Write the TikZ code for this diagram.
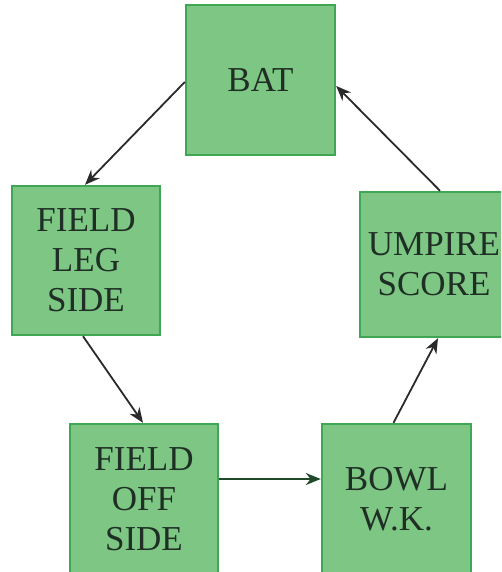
\documentclass[tikz,border=0pt]{standalone}
\usepackage{fontspec}
\setmainfont{Liberation Serif}
\usetikzlibrary{arrows.meta}
\definecolor{boxfill}{HTML}{7DC683}
\definecolor{boxline}{HTML}{3FA653}
\definecolor{txt}{HTML}{1F2F25}
\definecolor{arrcol}{HTML}{2A2A2A}
\definecolor{arrgreen}{HTML}{1F4A2A}
\begin{document}
\begin{tikzpicture}[x=1pt,y=-1pt,
  stagebox/.style={draw=boxline,line width=2.4pt,fill=boxfill,rectangle,inner sep=0pt,
    text=txt,align=center,font=\fontsize{35}{40}\selectfont},
  arr/.style={draw=arrcol,line width=1.8pt,-{Stealth[length=15pt,width=12pt]}}]
\useasboundingbox (0,0) rectangle (501,572);
\begin{scope}
\clip (0,0) rectangle (501,572);
\node[stagebox,minimum width=149pt,minimum height=150pt] (bat) at (260.5,80) {BAT};
\node[stagebox,minimum width=148pt,minimum height=149pt] (leg) at (86,260.5) {FIELD\\LEG\\SIDE};
\node[stagebox,minimum width=148pt,minimum height=145pt] (ump) at (434,264.5) {UMPIRE\\SCORE};
\node[stagebox,minimum width=148pt,minimum height=151pt] (off) at (144,499.5) {FIELD\\OFF\\SIDE};
\node[stagebox,minimum width=149pt,minimum height=151pt] (bowl) at (396.5,499.5) {BOWL\\W.K.};
\end{scope}
\draw[arr] ([yshift=-2pt]bat.west) -- ([xshift=-1pt]leg.north);
\draw[arr] ([xshift=-3pt]leg.south) -- ([xshift=-1pt]off.north);
\draw[arr,draw=arrgreen] ([yshift=20.5pt]off.east) -- ([yshift=20.5pt]bowl.west);
\draw[arr] ([xshift=-3pt]bowl.north) -- ([xshift=4pt]ump.south);
\draw[arr] ([xshift=6pt]ump.north) -- ([yshift=-6pt]bat.east);
\end{tikzpicture}
\end{document}
